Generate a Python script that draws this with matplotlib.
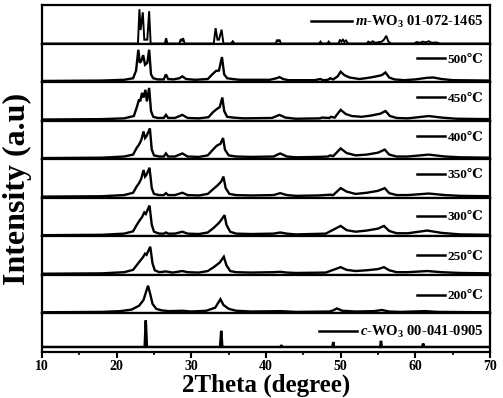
import matplotlib
matplotlib.use("Agg")
import matplotlib.pyplot as plt
from matplotlib.ticker import MultipleLocator
from matplotlib.lines import Line2D

plt.rcParams['font.family'] = ['Liberation Serif', 'DejaVu Serif']
plt.rcParams['font.weight'] = 'bold'
plt.rcParams['mathtext.fontset'] = 'custom'
plt.rcParams['mathtext.rm'] = 'Liberation Serif:bold'
plt.rcParams['mathtext.it'] = 'Liberation Serif:italic:bold'
plt.rcParams['mathtext.bf'] = 'Liberation Serif:bold'

# ---------------- data (2theta in degrees, intensity as fraction of panel) ----------------
labels = [r"$\mathit{m}$-WO$_3$ 01-072-1465", "500℃", "450℃", "400℃", "350℃",
          "300℃", "250℃", "200℃", r"$\mathit{c}$-WO$_3$ 00-041-0905"]

m_x = [10, 22.85, 23.05, 23.2, 23.5, 23.7, 24.1, 24.35, 24.55, 26.45, 26.62, 26.8,
       28.4, 28.6, 28.75, 28.9, 29.1, 33.0, 33.25, 33.5, 33.7, 34.05, 34.3, 35.3, 35.55,
       35.8, 41.3, 41.5, 41.65, 41.8, 42.0, 47.1, 47.3, 47.5, 48.2, 48.4, 48.6, 49.7,
       49.9, 50.1, 50.3, 50.5, 50.7, 51.0, 53.5, 53.7, 54.0, 54.3, 54.6, 55.5, 55.8,
       56.1, 56.4, 56.7, 59.8, 60.2, 60.6, 61.0, 61.4, 61.8, 62.2, 62.8, 63.3, 70]
m_y = [0, 0, 0.89, 0.35, 0.81, 0.1, 0.1, 0.84, 0, 0, 0.14, 0,
       0, 0.12, 0.06, 0.14, 0, 0, 0.40, 0.1, 0.1, 0.36, 0, 0, 0.06,
       0, 0, 0.1, 0.05, 0.1, 0, 0, 0.05, 0, 0, 0.05, 0, 0,
       0.1, 0.05, 0.1, 0.04, 0.08, 0, 0, 0.05, 0.02, 0.06, 0.02, 0.05, 0.1,
       0.2, 0.05, 0, 0, 0.04, 0.02, 0.05, 0.03, 0.06, 0.02, 0.03, 0, 0]

t500_x = [10, 18, 21, 22.2, 22.6, 22.9, 23.1, 23.3, 23.55, 23.8, 24.1, 24.35, 24.6,
          24.9, 25.5, 26.3, 26.6, 26.9, 27.6, 28.4, 28.8, 29.3, 30.5, 32.2, 32.8, 33.3,
          33.7, 34.1, 34.4, 34.8, 35.5, 36.5, 40.5, 41.4, 41.8, 42.3, 43, 46.5, 47.3,
          47.6, 48.3, 48.6, 49.0, 49.6, 50.0, 50.5, 51.2, 52.5, 53.3, 54.0, 54.8, 55.5,
          56.0, 56.5, 57.2, 58.5, 60, 61.5, 62.4, 63.5, 65, 70]
t500_y = [0.03, 0.04, 0.06, 0.1, 0.3, 0.84, 0.5, 0.55, 0.7, 0.45, 0.5, 0.84, 0.2,
          0.1, 0.07, 0.07, 0.2, 0.08, 0.07, 0.1, 0.15, 0.08, 0.06, 0.08, 0.2, 0.29,
          0.3, 0.65, 0.2, 0.1, 0.08, 0.06, 0.06, 0.1, 0.13, 0.08, 0.05, 0.05, 0.08,
          0.05, 0.06, 0.1, 0.07, 0.15, 0.27, 0.18, 0.12, 0.08, 0.1, 0.12, 0.15, 0.18,
          0.25, 0.12, 0.07, 0.05, 0.07, 0.11, 0.12, 0.08, 0.05, 0.04]

t450_x = [10, 18, 21, 22.3, 22.7, 23.0, 23.15, 23.4, 23.6, 23.85, 24.05, 24.35, 24.6,
          24.9, 25.5, 26.3, 26.6, 26.9, 27.8, 28.8, 29.5, 31, 32.3, 32.9, 33.4, 33.8,
          34.15, 34.4, 34.8, 35.6, 37, 40.8, 41.8, 42.6, 44, 47.2, 47.5, 48.5, 48.7,
          49.2, 50.0, 50.7, 51.5, 52.8, 54.0, 55.3, 56.0, 56.6, 57.5, 59, 61.8, 63.5,
          65.5, 70]
t450_y = [0.03, 0.04, 0.06, 0.12, 0.35, 0.55, 0.5, 0.72, 0.6, 0.8, 0.5, 0.85, 0.25,
          0.1, 0.07, 0.07, 0.15, 0.07, 0.07, 0.15, 0.07, 0.06, 0.09, 0.22, 0.3, 0.35,
          0.6, 0.25, 0.1, 0.08, 0.06, 0.07, 0.15, 0.08, 0.05, 0.06, 0.08, 0.07, 0.1,
          0.08, 0.28, 0.17, 0.12, 0.1, 0.13, 0.18, 0.25, 0.12, 0.07, 0.06, 0.12, 0.08,
          0.05, 0.04]

t400_x = [10, 18, 21, 22.2, 22.7, 23.0, 23.3, 23.6, 23.8, 24.0, 24.45, 24.7, 25.0,
          25.7, 26.3, 26.6, 26.9, 27.8, 28.8, 29.5, 31, 32.2, 32.9, 33.4, 33.9, 34.25,
          34.5, 35, 36, 38, 41, 41.9, 42.8, 44, 47, 48.3, 48.6, 49.0, 50.0, 50.8, 52,
          53.5, 55, 55.9, 56.5, 57.5, 59, 61.8, 64, 66, 70]
t400_y = [0.03, 0.04, 0.07, 0.12, 0.3, 0.38, 0.5, 0.72, 0.55, 0.6, 0.8, 0.25, 0.1,
          0.07, 0.07, 0.15, 0.07, 0.07, 0.15, 0.07, 0.06, 0.1, 0.25, 0.35, 0.4, 0.55,
          0.25, 0.1, 0.07, 0.06, 0.07, 0.15, 0.07, 0.05, 0.06, 0.07, 0.1, 0.08, 0.28,
          0.16, 0.1, 0.12, 0.17, 0.25, 0.12, 0.07, 0.07, 0.12, 0.07, 0.05, 0.04]

t350_x = [10, 18, 21, 22.2, 22.7, 23.0, 23.3, 23.6, 23.8, 24.0, 24.4, 24.7, 25.0,
          25.7, 26.3, 26.6, 26.9, 27.8, 28.8, 29.5, 31, 32.2, 32.9, 33.5, 34.0, 34.3,
          34.6, 35.1, 36, 38, 41, 41.9, 42.8, 44, 47, 48.6, 49.0, 50.0, 50.8, 52, 53.5,
          55, 55.9, 56.5, 57.5, 59, 61.8, 64, 66, 70]
t350_y = [0.03, 0.04, 0.07, 0.13, 0.3, 0.38, 0.5, 0.72, 0.55, 0.6, 0.78, 0.25, 0.1,
          0.07, 0.07, 0.12, 0.07, 0.07, 0.13, 0.07, 0.06, 0.1, 0.22, 0.32, 0.42, 0.55,
          0.25, 0.1, 0.07, 0.06, 0.07, 0.12, 0.07, 0.05, 0.06, 0.08, 0.07, 0.25, 0.16,
          0.1, 0.13, 0.18, 0.25, 0.12, 0.07, 0.07, 0.11, 0.07, 0.05, 0.04]

t300_x = [10, 18, 21, 22.2, 22.7, 23.1, 23.4, 23.7, 23.9, 24.4, 24.7, 25.0, 25.7,
          26.3, 26.6, 26.9, 27.8, 28.8, 29.5, 31, 32.2, 33.0, 33.7, 34.1, 34.45, 34.7,
          35.2, 36, 38, 41, 41.9, 42.8, 44, 48, 50.0, 50.8, 52, 53.5, 55, 55.8, 56.5,
          57.5, 59, 61.6, 63.5, 66, 70]
t300_y = [0.03, 0.04, 0.07, 0.13, 0.3, 0.42, 0.5, 0.62, 0.58, 0.8, 0.3, 0.12, 0.07,
          0.07, 0.1, 0.07, 0.07, 0.12, 0.07, 0.06, 0.1, 0.22, 0.35, 0.45, 0.55, 0.3,
          0.12, 0.07, 0.06, 0.07, 0.1, 0.07, 0.05, 0.07, 0.27, 0.16, 0.12, 0.15, 0.2,
          0.27, 0.14, 0.08, 0.08, 0.15, 0.09, 0.05, 0.04]

t250_x = [10, 18, 21, 22.2, 22.8, 23.2, 23.5, 23.8, 24.0, 24.5, 24.8, 25.1, 25.7,
          26.6, 27.5, 28.8, 29.5, 31, 32.2, 33.0, 33.8, 34.35, 34.7, 35.2, 36, 38, 41,
          41.9, 42.8, 44, 48, 50.0, 50.8, 52, 53.5, 55, 55.8, 56.5, 57.5, 59, 61.6,
          63.5, 66, 70]
t250_y = [0.03, 0.04, 0.07, 0.13, 0.28, 0.38, 0.45, 0.55, 0.52, 0.73, 0.3, 0.12, 0.07,
          0.09, 0.06, 0.1, 0.07, 0.06, 0.1, 0.2, 0.32, 0.47, 0.25, 0.1, 0.07, 0.06, 0.07,
          0.08, 0.06, 0.05, 0.06, 0.2, 0.13, 0.1, 0.12, 0.15, 0.2, 0.12, 0.07, 0.07, 0.1,
          0.07, 0.05, 0.04]

t200_x = [10, 18, 20.5, 22, 23.0, 23.6, 24.0, 24.2, 24.5, 24.8, 25.3, 26, 27, 28.8,
          30, 32, 33.2, 33.9, 34.3, 35, 36, 38, 42, 44, 48.5, 49.0, 49.5, 50.2, 52,
          54.5, 55.5, 56.5, 58, 61.3, 63, 70]
t200_y = [0.03, 0.04, 0.06, 0.1, 0.2, 0.35, 0.6, 0.72, 0.5, 0.25, 0.12, 0.08, 0.06,
          0.07, 0.05, 0.07, 0.15, 0.37, 0.22, 0.12, 0.07, 0.05, 0.06, 0.04, 0.05, 0.08,
          0.13, 0.07, 0.05, 0.06, 0.09, 0.05, 0.04, 0.06, 0.04, 0.03]

c_x = [10, 23.75, 23.9, 24.05, 33.85, 34.0, 34.15, 41.95, 42.05, 42.15, 48.9, 49.0,
       49.1, 55.3, 55.4, 55.5, 60.9, 61.05, 61.2, 70]
c_y = [0.13, 0.13, 0.82, 0.13, 0.13, 0.55, 0.13, 0.13, 0.18, 0.13, 0.13, 0.26,
       0.13, 0.13, 0.29, 0.13, 0.13, 0.22, 0.13, 0.13]

xs = [m_x, t500_x, t450_x, t400_x, t350_x, t300_x, t250_x, t200_x, c_x]
ys = [m_y, t500_y, t450_y, t400_y, t350_y, t300_y, t250_y, t200_y, c_y]

# ---------------- styles ----------------
legend_y = [0.56, 0.58, 0.57, 0.56, 0.59, 0.5, 0.47, 0.45, 0.52]
handle_len = [2.8, 2.1, 2.1, 2.1, 2.1, 2.1, 2.1, 2.1, 2.6]
label_size = [10.5, 9.5, 9.5, 9.5, 9.5, 9.5, 9.5, 9.5, 10.5]
line_w = [1.4, 1.7, 1.7, 1.7, 1.7, 1.7, 1.7, 1.7, 1.8]

fig = plt.figure(figsize=(5.03, 3.98), dpi=100)
gs = fig.add_gridspec(len(xs), 1, hspace=0, left=42/503, right=490/503,
                      top=1-5/398, bottom=1-352/398)
axes = []
for i in range(len(xs)):
    ax = fig.add_subplot(gs[i, 0], sharex=axes[0] if axes else None)
    axes.append(ax)
    ax.plot(xs[i], ys[i], color='black', lw=line_w[i], solid_joinstyle='miter')
    ax.set_ylim(0, 1)
    ax.set_yticks([])
    for s in ax.spines.values():
        s.set_linewidth(1.6)
        s.set_color('black')
    h = Line2D([], [], color='black', lw=1.8)
    ax.legend([h], [labels[i]], loc='center right', bbox_to_anchor=(0.985, legend_y[i]),
              frameon=False, handlelength=handle_len[i], handletextpad=0.2,
              borderpad=0, borderaxespad=0,
              prop={'family': ['Liberation Serif', 'DejaVu Serif'], 'weight': 'bold',
                    'size': label_size[i]})
    if i < len(xs) - 1:
        ax.tick_params(axis='x', which='both', bottom=False, labelbottom=False)

axb = axes[-1]
axb.set_xlim(10, 70)
axb.xaxis.set_major_locator(MultipleLocator(10))
axb.xaxis.set_minor_locator(MultipleLocator(5))
axb.tick_params(axis='x', which='major', direction='out', length=4, width=1.5,
                labelsize=10, pad=1.5)
axb.tick_params(axis='x', which='minor', direction='out', length=2.5, width=1.2)
for lab in axb.get_xticklabels():
    lab.set_fontweight('bold')
axb.set_xlabel('2Theta (degree)', fontsize=18, fontweight='bold', labelpad=1)
fig.text(0.034, 1 - 189/398, 'Intensity (a.u)', rotation=90,
         ha='center', va='center', fontsize=23, fontweight='bold')

fig.savefig('out.png', dpi=100)
